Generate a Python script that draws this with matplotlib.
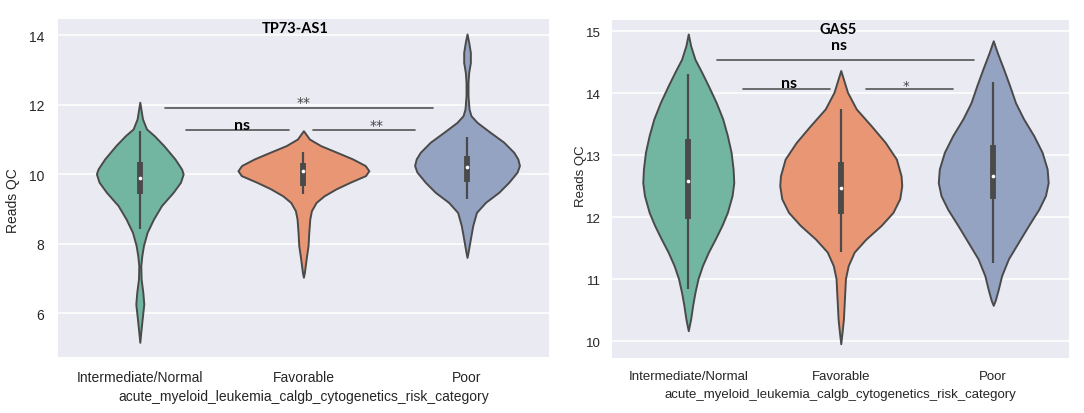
import matplotlib
matplotlib.use("Agg")
import matplotlib.pyplot as plt
import seaborn as sns
import numpy as np

# ---------------- data ----------------
categories = ["Intermediate/Normal", "Favorable", "Poor"]
x_label = "acute_myeloid_leukemia_calgb_cytogenetics_risk_category"
y_label = "Reads QC"
titles = ["TP73-AS1", "GAS5"]

# TP73-AS1 density profiles (value, relative density)
tp73_int_y = [5.17, 5.46, 5.84, 6.27, 6.61, 6.99, 7.37, 7.66, 7.95, 8.33, 8.71, 9.10,
              9.48, 9.77, 10.01, 10.15, 10.44, 10.82, 11.11, 11.30, 11.59, 12.07]
tp73_int_d = [0.0, 0.015, 0.036, 0.061, 0.046, 0.020, 0.015, 0.031, 0.056, 0.112, 0.209, 0.332,
              0.510, 0.622, 0.663, 0.638, 0.536, 0.367, 0.219, 0.102, 0.041, 0.0]
tp73_fav_y = [7.04, 7.18, 7.56, 7.95, 8.33, 8.71, 8.95, 9.19, 9.38, 9.58, 9.77, 9.96,
              10.10, 10.25, 10.44, 10.63, 10.82, 11.01, 11.25]
tp73_fav_d = [0.0, 0.015, 0.041, 0.071, 0.082, 0.097, 0.122, 0.194, 0.316, 0.500, 0.714, 0.949,
              1.0, 0.944, 0.750, 0.510, 0.265, 0.092, 0.0]
tp73_poor_y = [7.61, 7.75, 8.14, 8.52, 8.90, 9.19, 9.48, 9.77, 10.06, 10.25, 10.44, 10.63,
               10.92, 11.20, 11.49, 11.68, 11.87, 12.26, 12.64, 12.93, 13.21, 13.50, 13.79, 14.03]
tp73_poor_d = [0.0, 0.015, 0.051, 0.087, 0.143, 0.281, 0.485, 0.638, 0.765, 0.801, 0.776, 0.714,
               0.561, 0.357, 0.153, 0.061, 0.031, 0.015, 0.015, 0.026, 0.051, 0.051, 0.026, 0.0]

# TP73-AS1 box stats: whisker low, q1, median, q3, whisker high
tp73_box = [
    [8.43, 9.43, 9.88, 10.36, 11.25],
    [9.43, 9.67, 10.10, 10.32, 10.63],
    [9.29, 9.79, 10.22, 10.53, 11.06],
]

# GAS5 density profiles
gas5_int_y = [10.17, 10.36, 10.58, 10.79, 11.01, 11.22, 11.44, 11.65, 11.87, 12.08, 12.35, 12.56,
              12.78, 13.05, 13.32, 13.59, 13.85, 14.12, 14.34, 14.55, 14.77, 14.96]
gas5_int_d = [0.0, 0.039, 0.072, 0.110, 0.160, 0.232, 0.331, 0.442, 0.552, 0.641, 0.718, 0.746,
              0.735, 0.702, 0.641, 0.564, 0.459, 0.331, 0.221, 0.110, 0.039, 0.0]
gas5_fav_y = [9.96, 10.15, 10.36, 10.58, 10.79, 11.01, 11.22, 11.44, 11.65, 11.87, 12.08, 12.30,
              12.51, 12.67, 12.94, 13.21, 13.48, 13.75, 14.02, 14.23, 14.37]
gas5_fav_d = [0.0, 0.022, 0.044, 0.055, 0.066, 0.077, 0.122, 0.221, 0.414, 0.663, 0.856, 0.967,
              1.0, 0.989, 0.912, 0.729, 0.497, 0.254, 0.110, 0.044, 0.0]
gas5_poor_y = [10.58, 10.66, 10.84, 11.06, 11.33, 11.60, 11.87, 12.13, 12.35, 12.56, 12.78, 13.05,
               13.32, 13.59, 13.85, 14.12, 14.39, 14.66, 14.85]
gas5_poor_d = [0.0, 0.033, 0.083, 0.138, 0.249, 0.414, 0.580, 0.746, 0.856, 0.901, 0.884, 0.801,
               0.663, 0.497, 0.365, 0.271, 0.171, 0.066, 0.0]

gas5_box = [
    [10.85, 11.98, 12.58, 13.26, 14.31],
    [11.44, 12.05, 12.47, 12.89, 13.75],
    [11.27, 12.30, 12.67, 13.17, 14.18],
]

# significance brackets: (x_start, x_end, bar_y, label, label_x, label_y)
tp73_sig = [
    (0.151, 1.793, 11.89, "**", 1.0, 11.95),
    (0.285, 0.911, 11.27, "ns", 0.626, 11.31),
    (1.057, 1.685, 11.27, "**", 1.45, 11.30),
]
gas5_sig = [
    (0.187, 1.874, 14.54, "ns", 0.99, 14.71),
    (0.361, 0.930, 14.07, "ns", 0.663, 14.11),
    (1.166, 1.738, 14.07, "*", 1.43, 14.07),
]

# ---------------- style ----------------
sns.set_style("darkgrid")
plt.rcParams["font.family"] = ["Liberation Sans", "DejaVu Sans"]

base = sns.color_palette("Set2", 3)
colors = [sns.desaturate(c, 0.75) for c in base]
edge = "#4a4a4a"
bar_color = "#555555"

fig = plt.figure(figsize=(10.84, 4.14), dpi=100)
fig.patch.set_facecolor("white")

panels = [
    dict(rect=[0.0535, 0.1346, 0.4528, 0.8171],
         profiles=[(tp73_int_y, tp73_int_d), (tp73_fav_y, tp73_fav_d), (tp73_poor_y, tp73_poor_d)],
         box=tp73_box, sig=tp73_sig, ylim=(4.74, 14.46), yticks=[6, 8, 10, 12, 14],
         fs=10, title=titles[0], title_x=0.95, ylab_xy=(-0.077, 0.465), ypad=10, sigfs=10),
    dict(rect=[0.5646, 0.1329, 0.4220, 0.8171],
         profiles=[(gas5_int_y, gas5_int_d), (gas5_fav_y, gas5_fav_d), (gas5_poor_y, gas5_poor_d)],
         box=gas5_box, sig=gas5_sig, ylim=(9.73, 15.19), yticks=[10, 11, 12, 13, 14, 15],
         fs=9.5, title=titles[1], title_x=0.98, ylab_xy=(-0.055, 0.539), ypad=8, sigfs=9.5),
]

for p in panels:
    ax = fig.add_axes(p["rect"])
    ax.set_facecolor("#EAEAF2")
    for s in ax.spines.values():
        s.set_visible(False)
    ax.yaxis.grid(True, color="white", lw=1.1)
    ax.xaxis.grid(False)
    ax.set_axisbelow(True)

    for i, (yy, dd) in enumerate(p["profiles"]):
        yy = np.array(yy)
        dd = np.array(dd)
        st = dict(coords=yy, vals=dd, mean=p["box"][i][2], median=p["box"][i][2],
                  min=yy.min(), max=yy.max())
        res = ax.violin([st], positions=[i], widths=0.8 * dd.max(),
                        showmeans=False, showextrema=False, showmedians=False)
        for b in res["bodies"]:
            b.set_facecolor(colors[i])
            b.set_edgecolor(edge)
            b.set_alpha(1)
            b.set_linewidth(1.4)
            b.set_zorder(2)
        wlo, q1, med, q3, whi = p["box"][i]
        ax.vlines(i, wlo, whi, color=edge, lw=1.6, zorder=3)
        ax.vlines(i, q1, q3, color=edge, lw=4.2, zorder=3)
        ax.scatter([i], [med], s=7, color="white", zorder=4, linewidths=0)

    for (x0, x1, by, lab, lx, ly) in p["sig"]:
        ax.plot([x0, x1], [by, by], color=bar_color, lw=1.2, zorder=3)
        if lab == "ns":
            ax.text(lx, ly, lab, ha="center", va="baseline", fontsize=11.5,
                    fontweight="bold", family=["Lato", "DejaVu Sans"], color="black")
        else:
            ax.text(lx, ly, lab, ha="center", va="baseline", fontsize=p["sigfs"],
                    family=["DejaVu Sans"], color="#444444")

    ax.text((p["title_x"] + 0.5) / 3, 0.962, p["title"],
            transform=ax.transAxes, ha="center", va="baseline", fontsize=10.5,
            fontweight="bold", family=["Lato", "DejaVu Sans"], color="black")

    ax.set_xlim(-0.5, 2.5)
    ax.set_ylim(*p["ylim"])
    ax.set_yticks(p["yticks"])
    ax.set_xticks(range(len(categories)))
    ax.set_xticklabels(categories)
    ax.tick_params(axis="x", length=0, pad=9, labelsize=p["fs"], colors=".15")
    ax.tick_params(axis="y", length=0, pad=p["ypad"], labelsize=p["fs"], colors=".15")
    ax.set_xlabel(x_label, fontsize=p["fs"], color=".15", labelpad=4)
    ax.set_ylabel(y_label, fontsize=p["fs"], color=".15")
    ax.yaxis.set_label_coords(*p["ylab_xy"])

fig.savefig("out.png", dpi=100, facecolor="white")
